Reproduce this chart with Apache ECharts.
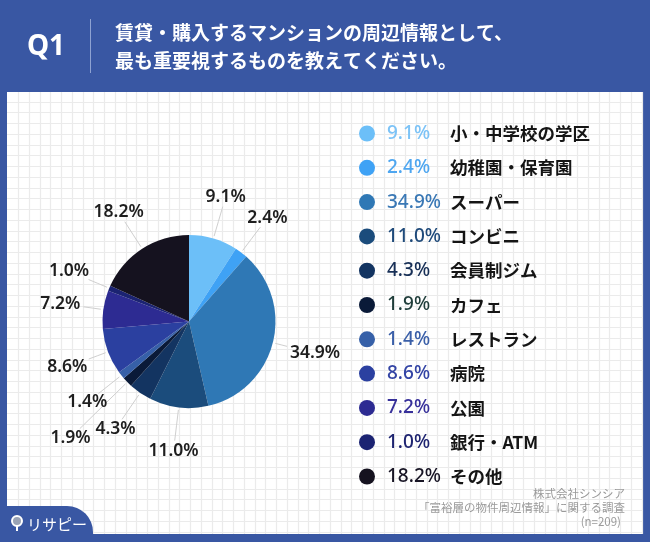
<!DOCTYPE html>
<html>
<head>
<meta charset="utf-8">
<script src="https://cdn.jsdelivr.net/npm/echarts@6/dist/echarts.min.js"></script>
<style>
html,body{margin:0;padding:0;background:#3957a3;}
#chart{width:650px;height:542px;}
</style>
</head>
<body>
<div id="chart"></div>
<script>
const categories = ['小・中学校の学区','幼稚園・保育園','スーパー','コンビニ','会員制ジム','カフェ','レストラン','病院','公園','銀行・ATM','その他'];
const values = [9.1, 2.4, 34.9, 11.0, 4.3, 1.9, 1.4, 8.6, 7.2, 1.0, 18.2];
const sliceColors = ['#6cbff8','#3fa2f5','#2f78b5','#1b4c7c','#133461','#0a1a38','#3660a8','#2b40a0','#2d2b92','#1b2372','#15121f'];
const percentTextColors = ['#7cc3f7','#4ea6f0','#3a78b5','#1f4a7a','#172f56','#1f3d3a','#3a5fa8','#3344a5','#37309a','#1e2470','#181525'];
const titleLines = ['賃貸・購入するマンションの周辺情報として、','最も重要視するものを教えてください。'];
const footerLines = ['株式会社シンシア','「富裕層の物件周辺情報」に関する調査','(n=209)'];

const chart = echarts.init(document.getElementById('chart'), null, {renderer:'canvas'});

const PX = 7, PY = 92, PW = 635, PH = 442;
const cx = 189, cy = 321.5;
const gfx = [];
gfx.push({type:'rect', shape:{x:PX,y:PY,width:PW,height:PH}, style:{fill:'#ffffff'}, z:0});
const step = 10.75;
for (let x = PX + 11; x < PX + PW; x += step) {
  gfx.push({type:'line', shape:{x1:Math.round(x)+0.5,y1:PY,x2:Math.round(x)+0.5,y2:PY+PH}, style:{stroke:'#ebebeb',lineWidth:1.2}, z:1, silent:true});
}
for (let y = PY + 9.7; y < PY + PH; y += step) {
  gfx.push({type:'line', shape:{x1:PX,y1:Math.round(y)+0.5,x2:PX+PW,y2:Math.round(y)+0.5}, style:{stroke:'#ebebeb',lineWidth:1.2}, z:1, silent:true});
}
// header
gfx.push({type:'text', style:{text:'Q1', x:46, y:47, align:'center', verticalAlign:'middle', fill:'#fff', font:'bold 28px "Noto Sans", sans-serif'}, z:5});
gfx.push({type:'line', shape:{x1:90.5,y1:19,x2:90.5,y2:73}, style:{stroke:'#8ea2d2',lineWidth:1}, z:5});
titleLines.forEach((t,i)=>{
  gfx.push({type:'text', style:{text:t, x:115, y:33 + i*28, verticalAlign:'middle', fill:'#fff', font:'bold 19px "Noto Sans CJK JP", sans-serif'}, z:5});
});
// footer
footerLines.forEach((t,i)=>{
  gfx.push({type:'text', style:{text:t, x:i===2?621:625, y:494 + i*14, align:'right', verticalAlign:'middle', fill:'#9a9a9a', font:'11.5px "Noto Sans CJK JP", sans-serif'}, z:5});
});
// logo tab
gfx.push({type:'rect', shape:{x:0,y:506,width:93,height:36,r:[0,26,0,0]}, style:{fill:'#3957a3'}, z:6});
gfx.push({type:'circle', shape:{cx:17,cy:521,r:5}, style:{fill:'#9aa3b5',stroke:'#fff',lineWidth:2}, z:7});
gfx.push({type:'line', shape:{x1:17,y1:526,x2:17,y2:531}, style:{stroke:'#fff',lineWidth:2}, z:7});
gfx.push({type:'text', style:{text:'リサピー', x:27, y:524, verticalAlign:'middle', fill:'#fff', font:'15px "Noto Sans CJK JP", sans-serif'}, z:7});

const rich = {n:{fontSize:17.5, fontWeight:'bold', color:'#151515', fontFamily:'"Noto Sans CJK JP", sans-serif', lineHeight:20}};
values.forEach((v,i)=>{
  rich['p'+i] = {fontSize:19, fontWeight:500, color:percentTextColors[i], fontFamily:'"Noto Sans", sans-serif', width:63, padding:[0,0,0,7], lineHeight:20};
});

const option = {
  animation:false,
  backgroundColor:'#3957a3',
  graphic: gfx,
  legend: {
    orient:'vertical', left:354, top:119, icon:'circle', itemWidth:16, itemHeight:16, itemGap:15.3,
    selectedMode:false, data:categories,
    formatter: name => { const i = categories.indexOf(name); return '{p'+i+'|'+values[i].toFixed(1)+'%}{n|'+name+'}'; },
    textStyle:{rich: rich}
  },
  series: [{
    type:'pie', center:[cx,cy], radius:[0,86.5], startAngle:90, clockwise:true,
    data: categories.map((c,i)=>({name:c, value:values[i], itemStyle:{color:sliceColors[i]}})),
    label:{show:true, position:'outside', formatter:p=>values[p.dataIndex].toFixed(1)+'%', fontSize:17.5, fontWeight:600, color:'#1e1e1e', fontFamily:'"Noto Sans", sans-serif'},
    labelLine:{show:true, length:20, length2:0, lineStyle:{color:'#cfcfcf', width:1}},
    emphasis:{disabled:true},
    labelLayout: function(params){
      const pts = params.labelLinePoints;
      if (!pts) return {};
      const dx = pts[0][0]-cx, dy = pts[0][1]-cy;
      const d = Math.hypot(dx,dy);
      const ux = dx/d, uy = dy/d;
      const R = params.dataIndex === 5 ? 166 : 130;
      const lx = cx + ux*R, ly = cy + uy*R;
      const w = params.labelRect.width/2, h = params.labelRect.height/2 - 2;
      const t = Math.min(Math.abs(ux)>1e-6 ? w/Math.abs(ux) : 1e9, Math.abs(uy)>1e-6 ? h/Math.abs(uy) : 1e9);
      const endR = R - t - 3;
      return {
        x: lx, y: ly, align:'center', verticalAlign:'middle',
        labelLinePoints: [[cx+ux*89, cy+uy*89],[cx+ux*(89+(endR-89)/2), cy+uy*(89+(endR-89)/2)],[cx+ux*endR, cy+uy*endR]]
      };
    }
  }]
};
chart.setOption(option);
</script>
</body>
</html>
